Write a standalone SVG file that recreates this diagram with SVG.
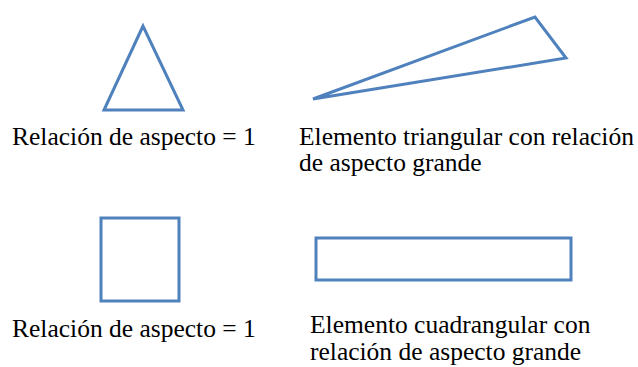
<svg xmlns="http://www.w3.org/2000/svg" width="638" height="367" viewBox="0 0 638 367">
<style>
.shape{fill:none;stroke:#4F81BD;stroke-width:3;stroke-linejoin:miter}
</style>
<rect width="638" height="367" fill="#fff"/>
<g font-family="'Liberation Serif', 'Times New Roman', serif" font-size="25.5" fill="#000">
<g id="tri-equal">
<polygon class="shape" points="143,26 104,110 183,110"/>
<text x="12" y="145">Relación de aspecto = 1</text>
</g>
<g id="tri-large">
<polygon class="shape" points="313,99 535,17 566,58"/>
<text x="299" y="145">Elemento triangular con relación</text>
<text x="299" y="171">de aspecto grande</text>
</g>
<g id="sq-equal">
<rect class="shape" x="101" y="218" width="78" height="83"/>
<text x="12" y="337">Relación de aspecto = 1</text>
</g>
<g id="rect-large">
<rect class="shape" x="316" y="238" width="255" height="42"/>
<text x="310" y="333">Elemento cuadrangular con</text>
<text x="310" y="360">relación de aspecto grande</text>
</g>
</g>
<g id="connectors"></g>
</svg>
